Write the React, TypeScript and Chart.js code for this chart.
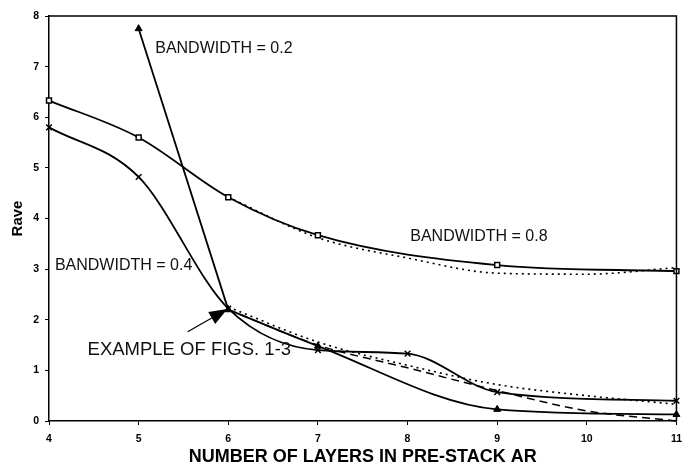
import { useEffect, useRef } from "react";
import { Chart, registerables } from "chart.js";
Chart.register(...registerables);

// Series data (x = number of layers, y = Rave)
const bw08X = [4, 5, 6, 7, 9, 11];
const bw08Y = [6.33, 5.6, 4.42, 3.67, 3.08, 2.96];
const bw08DotX = [6, 7, 8, 9, 10, 11];
const bw08DotY = [4.42, 3.62, 3.22, 2.92, 2.9, 3.03];
const bw04X = [4, 5, 6, 7, 8, 9, 11];
const bw04Y = [5.8, 4.82, 2.22, 1.4, 1.33, 0.57, 0.4];
const bw02X = [5, 6, 7, 9, 11];
const bw02Y = [7.75, 2.2, 1.48, 0.23, 0.13];
const dashX = [6, 7, 8, 9, 10, 11];
const dashY = [2.2, 1.5, 1.05, 0.6, 0.2, 0.0];
const dotX = [6, 7, 8, 9, 10, 11];
const dotY = [2.25, 1.56, 1.1, 0.72, 0.5, 0.33];

const xTicks = [4, 5, 6, 7, 8, 9, 10, 11];
const yTicks = [0, 1, 2, 3, 4, 5, 6, 7, 8];

// Annotation text (data coordinates)
const noteTexts = ["BANDWIDTH = 0.2", "BANDWIDTH = 0.8", "BANDWIDTH = 0.4", "EXAMPLE OF FIGS. 1-3"];
const noteX = [5.185, 8.03, 4.066, 4.43];
const noteY = [7.36, 3.65, 3.07, 1.41];
const noteSize = [16, 16, 16, 18.5];
const arrowFrom = [5.547, 1.764];
const arrowTo = [5.99, 2.21];

const pts = (xs: number[], ys: number[]) => xs.map((x, i) => ({ x, y: ys[i] }));

const overlay = {
  id: "overlay",
  afterDatasetsDraw(chart: any) {
    const { ctx, chartArea: a, scales } = chart;
    const sx = scales.x, sy = scales.y;
    ctx.save();
    ctx.strokeStyle = "#000";
    ctx.lineWidth = 1.5;
    ctx.beginPath();
    ctx.moveTo(a.left, a.top);
    ctx.lineTo(a.right, a.top);
    ctx.lineTo(a.right, a.bottom);
    ctx.stroke();

    ctx.fillStyle = "#111";
    ctx.textBaseline = "middle";
    ctx.textAlign = "left";
    noteTexts.forEach((t, i) => {
      ctx.font = `${noteSize[i]}px "Liberation Sans", Arial, sans-serif`;
      ctx.fillText(t, sx.getPixelForValue(noteX[i]), sy.getPixelForValue(noteY[i]));
    });

    // arrow
    const x0 = sx.getPixelForValue(arrowFrom[0]);
    const y0 = sy.getPixelForValue(arrowFrom[1]);
    const x1 = sx.getPixelForValue(arrowTo[0]);
    const y1 = sy.getPixelForValue(arrowTo[1]);
    const ang = Math.atan2(y1 - y0, x1 - x0);
    const hl = 18, hw = 7;
    const bx = x1 - hl * Math.cos(ang);
    const by = y1 - hl * Math.sin(ang);
    ctx.lineWidth = 1.3;
    ctx.beginPath();
    ctx.moveTo(x0, y0);
    ctx.lineTo(bx, by);
    ctx.stroke();
    ctx.fillStyle = "#000";
    ctx.beginPath();
    ctx.moveTo(x1, y1);
    ctx.lineTo(bx + hw * Math.sin(ang), by - hw * Math.cos(ang));
    ctx.lineTo(bx - hw * Math.sin(ang), by + hw * Math.cos(ang));
    ctx.closePath();
    ctx.fill();
    ctx.restore();
  },
};

export default function App() {
  const ref = useRef<HTMLCanvasElement>(null);
  useEffect(() => {
    if (!ref.current) return;
    const base = {
      borderColor: "#000",
      backgroundColor: "#000",
      cubicInterpolationMode: "monotone" as const,
      clip: false as any,
      pointBorderColor: "#000",
    };
    const tri = {
      pointStyle: "triangle" as const,
      pointRadius: 4,
      pointBackgroundColor: "#000",
      pointBorderWidth: 1,
      borderWidth: 1.8,
    };
    const chart = new Chart(ref.current, {
      type: "line",
      data: {
        datasets: [
          {
            ...base,
            label: "BANDWIDTH = 0.8",
            data: pts(bw08X, bw08Y),
            borderWidth: 1.8,
            pointStyle: "rect",
            pointRadius: 3.5,
            pointBackgroundColor: "#fff",
            pointBorderWidth: 1.5,
          },
          {
            ...base,
            label: "0.8 dotted",
            data: pts(bw08DotX, bw08DotY),
            borderWidth: 1.6,
            borderDash: [2, 4],
            pointRadius: 0,
          },
          {
            ...base,
            label: "BANDWIDTH = 0.4",
            data: pts(bw04X, bw04Y),
            borderWidth: 1.8,
            pointStyle: "crossRot",
            pointRadius: 4,
            pointBorderWidth: 1.5,
          },
          {
            ...base,
            ...tri,
            label: "BANDWIDTH = 0.2",
            data: pts(bw02X.slice(0, 2), bw02Y.slice(0, 2)),
            cubicInterpolationMode: "default" as const,
            tension: 0,
          },
          {
            ...base,
            ...tri,
            label: "BANDWIDTH = 0.2 (cont.)",
            data: pts(bw02X.slice(1), bw02Y.slice(1)),
          },
          {
            ...base,
            label: "dashed",
            data: pts(dashX, dashY),
            borderWidth: 1.5,
            borderDash: [8, 5],
            pointRadius: 0,
          },
          {
            ...base,
            label: "dotted",
            data: pts(dotX, dotY),
            borderWidth: 1.6,
            borderDash: [2, 4],
            pointRadius: 0,
          },
        ],
      },
      options: {
        responsive: false,
        animation: false,
        layout: { padding: { top: 16, right: 3, left: 0, bottom: 0 } },
        plugins: { legend: { display: false }, tooltip: { enabled: false } },
        scales: {
          x: {
            type: "linear",
            min: 4,
            max: 11,
            afterBuildTicks: (s: any) => {
              s.ticks = xTicks.map((v) => ({ value: v }));
            },
            afterFit: (s: any) => {
              s.height = 49;
            },
            ticks: {
              color: "#000",
              padding: 8,
              font: { family: '"Liberation Sans", Arial, sans-serif', size: 10.5, weight: "bold" },
            },
            grid: { drawOnChartArea: false, tickLength: 4, color: "#000", lineWidth: 1 },
            border: { color: "#000", width: 1.5 },
            title: {
              display: true,
              text: "NUMBER OF LAYERS IN PRE-STACK AR",
              color: "#000",
              font: { family: '"Liberation Sans", Arial, sans-serif', size: 18, weight: "bold" },
              padding: { top: 0, bottom: 2 },
            },
          },
          y: {
            min: 0,
            max: 8,
            afterBuildTicks: (s: any) => {
              s.ticks = yTicks.map((v) => ({ value: v }));
            },
            afterFit: (s: any) => {
              s.width = 49;
            },
            ticks: {
              color: "#000",
              padding: 6,
              font: { family: '"Liberation Sans", Arial, sans-serif', size: 10.5, weight: "bold" },
            },
            grid: { drawOnChartArea: false, tickLength: 4, color: "#000", lineWidth: 1 },
            border: { color: "#000", width: 1.5 },
            title: {
              display: true,
              text: "Rave",
              color: "#000",
              font: { family: '"Liberation Sans", Arial, sans-serif', size: 15, weight: "bold" },
              padding: { top: 9, bottom: 0 },
            },
          },
        },
      },
      plugins: [overlay],
    });
    return () => chart.destroy();
  }, []);
  return (
    <div style={{ position: "absolute", left: 0, top: 0, width: 690, height: 470, background: "#fff" }}>
      <canvas ref={ref} width={690} height={470} />
    </div>
  );
}
